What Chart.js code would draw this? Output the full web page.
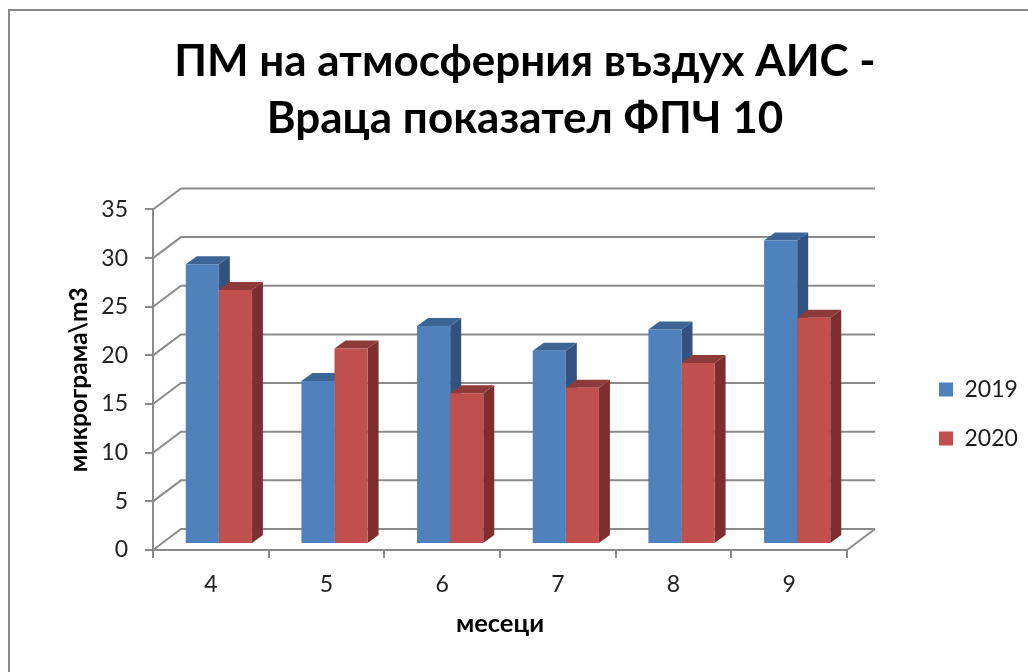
<!DOCTYPE html>
<html lang="bg">
<head>
<meta charset="utf-8">
<title>ФПЧ 10 Враца</title>
<style>
  html, body { margin: 0; padding: 0; background: #fff; overflow: hidden; }
  canvas { display: block; }
</style>
<script src="https://cdn.jsdelivr.net/npm/chart.js@4/dist/chart.umd.min.js"></script>
</head>
<body>
<canvas id="chart" width="1028" height="672"></canvas>
<script>
const months = ['4', '5', '6', '7', '8', '9'];
const values2019 = [28.75, 16.75, 22.4, 19.85, 22.05, 31.2];
const values2020 = [26.1, 20.1, 15.5, 16.05, 18.6, 23.25];
const titleLines = ['ПМ на атмосферния въздух АИС -', 'Враца показател ФПЧ 10'];
const yAxisTitle = 'микрограма\\m3';
const xAxisTitle = 'месеци';

const FONT = 'Lato, "Open Sans", sans-serif';
const AXIS_GRAY = '#8b8b8b';
// Depth of the box behind the axes, and of each column.
const BOX_DEPTH = { x: 28, y: -21 };
const BAR_SHIFT = { x: 8, y: -6 };
const BAR_DEPTH = { x: 11, y: -8 };
const FACE_SHADES = [
  { side: '#34527e', top: '#3c6596' },
  { side: '#7c2f2e', top: '#8e3a38' }
];

function polygon(ctx, pts, fill) {
  ctx.beginPath();
  pts.forEach((p, i) => i ? ctx.lineTo(p[0], p[1]) : ctx.moveTo(p[0], p[1]));
  ctx.closePath();
  ctx.fillStyle = fill;
  ctx.fill();
}

const box3d = {
  id: 'box3d',
  beforeDraw(chart) {
    // Frame around the chart, running off the right and bottom of the page.
    const { ctx } = chart;
    ctx.save();
    ctx.strokeStyle = '#8a8a8a';
    ctx.lineWidth = 2;
    ctx.strokeRect(9, 10, chart.width + 20, chart.height + 20);
    ctx.restore();
  },
  afterLayout(chart) {
    const lg = chart.legend;
    lg.left = 913; lg.right = 1028; lg.width = 115;
    lg.top = 352; lg.bottom = 560; lg.height = 208;
    // Title centred over the plot and legend together.
    const tb = chart.titleBlock;
    tb.left = 22; tb.right = 1028; tb.width = 1006;
  },
  beforeDatasetsDraw(chart) {
    const { ctx, chartArea: a, scales: { y } } = chart;
    ctx.save();
    ctx.strokeStyle = AXIS_GRAY;
    ctx.lineWidth = 2;
    ctx.beginPath();
    y.ticks.forEach(t => {
      const py = y.getPixelForValue(t.value);
      ctx.moveTo(a.left, py);
      ctx.lineTo(a.left + BOX_DEPTH.x, py + BOX_DEPTH.y);
      ctx.lineTo(a.right + BOX_DEPTH.x, py + BOX_DEPTH.y);
    });
    // Right edge of the floor.
    ctx.moveTo(a.right, a.bottom);
    ctx.lineTo(a.right + BOX_DEPTH.x, a.bottom + BOX_DEPTH.y);
    ctx.stroke();

    // Side and top faces of the columns, first series underneath the second.
    ctx.translate(BAR_SHIFT.x, BAR_SHIFT.y);
    const dx = BAR_DEPTH.x, dy = BAR_DEPTH.y;
    chart.data.datasets.forEach((_, i) => {
      const shade = FACE_SHADES[i];
      chart.getDatasetMeta(i).data.forEach(bar => {
        const l = bar.x - bar.width / 2, r = bar.x + bar.width / 2;
        polygon(ctx, [[r, bar.y], [r + dx, bar.y + dy], [r + dx, bar.base + dy], [r, bar.base]], shade.side);
        polygon(ctx, [[l, bar.y], [l + dx, bar.y + dy], [r + dx, bar.y + dy], [r, bar.y]], shade.top);
      });
    });
    ctx.restore();
  },
  beforeDatasetDraw(chart) {
    chart.ctx.save();
    chart.ctx.translate(BAR_SHIFT.x, BAR_SHIFT.y);
  },
  afterDatasetDraw(chart) {
    chart.ctx.restore();
  }
};

new Chart(document.getElementById('chart'), {
  type: 'bar',
  plugins: [box3d],
  data: {
    labels: months,
    datasets: [
      { label: '2019', data: values2019, backgroundColor: '#4f81bd', clip: false },
      { label: '2020', data: values2020, backgroundColor: '#c0504d', clip: false }
    ]
  },
  options: {
    responsive: false,
    animation: false,
    events: [],
    layout: { padding: { left: 64, right: 181, top: 33, bottom: 33 } },
    datasets: { bar: { barPercentage: 1, categoryPercentage: 0.572 } },
    plugins: {
      tooltip: { enabled: false },
      title: {
        display: true,
        text: titleLines,
        color: '#000',
        font: { family: FONT, size: 44, weight: 'bold', lineHeight: 1.295 },
        padding: { top: 0, bottom: 62.5 }
      },
      legend: {
        position: 'chartArea',
        align: 'start',
        labels: {
          boxWidth: 14,
          boxHeight: 14,
          padding: 26,
          color: '#1a1a1a',
          font: { family: FONT, size: 23 }
        }
      }
    },
    scales: {
      x: {
        grid: { drawOnChartArea: false, drawTicks: true, tickLength: 8, color: AXIS_GRAY, lineWidth: 2 },
        border: { display: true, color: AXIS_GRAY, width: 2 },
        ticks: { color: '#222', padding: 13, maxRotation: 0, font: { family: FONT, size: 23 } },
        title: {
          display: true, text: xAxisTitle, color: '#000',
          font: { family: FONT, size: 25.5, weight: 'bold' }, padding: { top: 10, bottom: 0 }
        },
        afterFit(s) { s.height = 89; }
      },
      y: {
        min: 0,
        max: 35,
        grid: { drawOnChartArea: false, drawTicks: true, tickLength: 8, color: AXIS_GRAY, lineWidth: 2 },
        border: { display: true, color: AXIS_GRAY, width: 2 },
        ticks: { stepSize: 5, color: '#222', padding: 17, font: { family: FONT, size: 23 } },
        title: {
          display: true, text: yAxisTitle, color: '#000',
          font: { family: FONT, size: 24.5, weight: 'bold' }, padding: { top: 0, bottom: 0 }
        },
        afterFit(s) { s.width = 89; }
      }
    }
  }
});
</script>
</body>
</html>
